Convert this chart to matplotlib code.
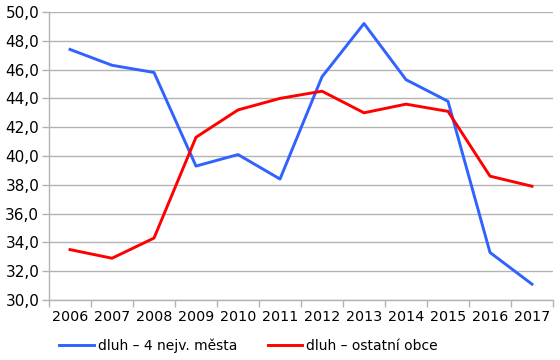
import matplotlib
matplotlib.use("Agg")
import matplotlib.pyplot as plt
from matplotlib.ticker import FixedLocator, FuncFormatter

roky = ["2006", "2007", "2008", "2009", "2010", "2011",
        "2012", "2013", "2014", "2015", "2016", "2017"]
mesta = [47.4, 46.3, 45.8, 39.3, 40.1, 38.4, 45.5, 49.2, 45.3, 43.8, 33.3, 31.1]
obce = [33.5, 32.9, 34.3, 41.3, 43.2, 44.0, 44.5, 43.0, 43.6, 43.1, 38.6, 37.9]
nazvy = ["dluh – 4 nejv. města", "dluh – ostatní obce"]

plt.rcParams['font.family'] = ['DejaVu Sans']

fig = plt.figure(figsize=(5.6, 3.6), dpi=100)
ax = fig.add_axes([49 / 560, 60 / 360, 504 / 560, 288 / 360])

x = list(range(len(roky)))
ax.plot(x, mesta, color='#2f62ff', lw=2.1, label=nazvy[0])
ax.plot(x, obce, color='#ff0000', lw=2.1, label=nazvy[1])

ax.set_xlim(-0.5, len(roky) - 0.5)
ax.set_ylim(30, 50)
ax.set_yticks(range(30, 51, 2))
ax.yaxis.set_major_formatter(FuncFormatter(lambda v, p: f"{v:.1f}".replace('.', ',')))
ax.set_xticks(x)
ax.set_xticklabels(roky)
ax.xaxis.set_minor_locator(FixedLocator([i - 0.5 for i in range(len(roky) + 1)]))
ax.tick_params(axis='x', which='major', length=0, labelsize=10.3, pad=7)
ax.tick_params(axis='x', which='minor', length=5, color='#b3b3b3', width=1)
ax.tick_params(axis='y', length=5, color='#b3b3b3', width=1, labelsize=11, pad=2)

ax.grid(axis='y', color='#b3b3b3', lw=1)
ax.set_axisbelow(True)
for s in ['top', 'right']:
    ax.spines[s].set_visible(False)
for s in ['left', 'bottom']:
    ax.spines[s].set_color('#b3b3b3')
    ax.spines[s].set_linewidth(1)

fig.legend(loc='lower left', bbox_to_anchor=(47 / 560, -0.015), ncol=2, frameon=False,
           fontsize=10, handlelength=2.45, columnspacing=2.2, handletextpad=0.3)

fig.savefig("out.png", dpi=100)
